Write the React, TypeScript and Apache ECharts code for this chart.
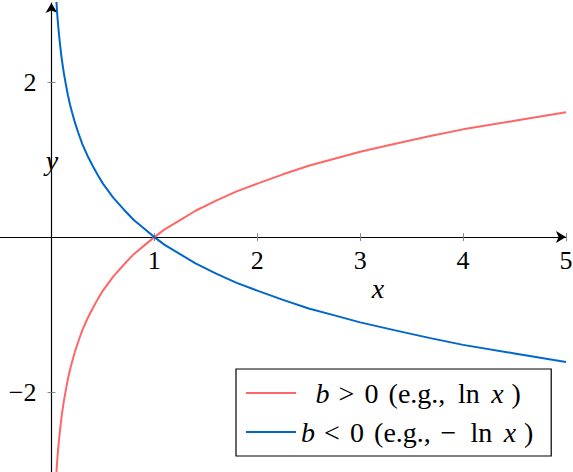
import React, { useEffect, useRef } from "react";
import * as echarts from "echarts";

const xs = [0.045, 0.05, 0.055, 0.06, 0.07, 0.08, 0.09, 0.1, 0.12, 0.14, 0.16, 0.18, 0.2, 0.23, 0.26, 0.3, 0.35, 0.4, 0.45, 0.5, 0.6, 0.7, 0.8, 0.9, 1, 1.1, 1.25, 1.4, 1.6, 1.8, 2, 2.25, 2.5, 2.75, 3, 3.33, 3.67, 4, 4.5, 5];
const redY = [-3.1, -3.0, -2.9, -2.81, -2.66, -2.53, -2.41, -2.3, -2.12, -1.97, -1.83, -1.71, -1.61, -1.47, -1.35, -1.2, -1.05, -0.92, -0.8, -0.69, -0.51, -0.36, -0.22, -0.11, 0, 0.1, 0.22, 0.34, 0.47, 0.59, 0.69, 0.81, 0.92, 1.01, 1.1, 1.2, 1.3, 1.39, 1.5, 1.61];
const blueY = [3.1, 3.0, 2.9, 2.81, 2.66, 2.53, 2.41, 2.3, 2.12, 1.97, 1.83, 1.71, 1.61, 1.47, 1.35, 1.2, 1.05, 0.92, 0.8, 0.69, 0.51, 0.36, 0.22, 0.11, 0, -0.1, -0.22, -0.34, -0.47, -0.59, -0.69, -0.81, -0.92, -1.01, -1.1, -1.2, -1.3, -1.39, -1.5, -1.61];
const xTicks = [1, 2, 3, 4, 5];
const yTicks = [-2, 2];
const seriesNames = ["pos", "neg"];

const FONT = "Liberation Serif";
const FS = 26;
const LFS = 28;

const X_MIN = -0.5, X_MAX = 5, Y_MIN = -3.03, Y_MAX = 3.02;
const W = 573, H = 472, G_LEFT = 0, G_RIGHT = 7, G_TOP = 3, G_BOTTOM = 0;

export default function App() {
  const ref = useRef<HTMLDivElement>(null);
  useEffect(() => {
    if (!ref.current) return;
    const chart = echarts.init(ref.current, null, { renderer: "svg" });
    const fmt = (v: number) => (v < 0 ? "\u2212" + Math.abs(v) : String(v));
    const gw = W - G_LEFT - G_RIGHT;
    const gh = H - G_TOP - G_BOTTOM;
    const distBottom = (gh * (0 - Y_MIN)) / (Y_MAX - Y_MIN);
    const distLeft = (gw * (0 - X_MIN)) / (X_MAX - X_MIN);
    const tickStyle = { color: "#8a8a8a", width: 1 };
    const lineStyle = { color: "#000", width: 1.2 };
    const labelStyle = { fontFamily: FONT, fontSize: FS, color: "#000" };

    const xMain = {
      type: "value", min: X_MIN, max: X_MAX, position: "bottom", offset: -distBottom,
      axisLine: { onZero: false, lineStyle, symbol: ["none", "arrow"], symbolSize: [9, 10] },
      axisTick: { show: true, length: 4, customValues: xTicks, lineStyle: tickStyle },
      axisLabel: { customValues: xTicks, formatter: fmt, ...labelStyle, margin: 10 },
      splitLine: { show: false },
    };
    const xTop = {
      type: "value", min: X_MIN, max: X_MAX, position: "top", offset: -(gh - distBottom),
      axisLine: { show: false, onZero: false },
      axisTick: { show: true, length: 4, customValues: xTicks, lineStyle: tickStyle },
      axisLabel: { show: false },
      splitLine: { show: false },
    };
    const yMain = {
      type: "value", min: Y_MIN, max: Y_MAX, position: "left", offset: -distLeft,
      axisLine: { onZero: false, lineStyle, symbol: ["none", "arrow"], symbolSize: [9, 10] },
      axisTick: { show: true, length: 4, customValues: yTicks, lineStyle: tickStyle },
      axisLabel: { customValues: yTicks, formatter: fmt, ...labelStyle, margin: 15 },
      splitLine: { show: false },
    };
    const yRight = {
      type: "value", min: Y_MIN, max: Y_MAX, position: "right", offset: -(gw - distLeft),
      axisLine: { show: false, onZero: false },
      axisTick: { show: true, length: 4, customValues: yTicks, lineStyle: tickStyle },
      axisLabel: { show: false },
      splitLine: { show: false },
    };

    const t = (extra: object) => ({ fontFamily: FONT, fontSize: LFS, color: "#000", ...extra });
    const rich = {
      p: { width: 14.5 },
      b: t({ fontStyle: "italic", width: 23.1 }),
      rel: t({ width: 25.9 }),
      z: t({ width: 24.1 }),
      eg1: t({ width: 69.4 }),
      eg2: t({ width: 66.5 }),
      m: t({ width: 29.9 }),
      ln: t({ width: 33.3 }),
      x: t({ fontStyle: "italic", width: 20.1 }),
      cp: t({}),
    };

    chart.setOption({
      animation: false,
      grid: { left: G_LEFT, right: G_RIGHT, top: G_TOP, bottom: G_BOTTOM, containLabel: false, outerBoundsMode: "none" },
      xAxis: [xMain, xTop],
      yAxis: [yMain, yRight],
      legend: {
        orient: "vertical",
        left: 236,
        top: 369,
        padding: [10, 18, 10, 9],
        itemWidth: 50,
        itemHeight: 26,
        itemGap: 11,
        borderColor: "#000",
        borderWidth: 1.2,
        backgroundColor: "#fff",
        itemStyle: { opacity: 0 },
        data: seriesNames,
        formatter: (name: string) =>
          name === "pos"
            ? "{p|}{b|b}{rel|>}{z|0}{eg1|(e.g.,}{ln|ln}{x|x}{cp|)}"
            : "{b|b}{rel|<}{z|0}{eg2|(e.g.,}{m|\u2212}{ln|ln}{x|x}{cp|)}",
        textStyle: { fontFamily: FONT, fontSize: LFS, color: "#000", rich },
      },
      graphic: [
        {
          type: "text", x: 378, y: 288,
          style: { text: "x", fontFamily: FONT, fontStyle: "italic", fontSize: LFS, fill: "#000", align: "center", verticalAlign: "middle" },
        },
        {
          type: "text", x: 52, y: 160,
          style: { text: "y", fontFamily: FONT, fontStyle: "italic", fontSize: LFS, fill: "#000", align: "center", verticalAlign: "middle" },
        },
      ],
      series: [
        {
          name: "pos", type: "line", xAxisIndex: 0, yAxisIndex: 0,
          data: xs.map((x, i) => [x, redY[i]]),
          symbol: "none", smooth: false, clip: true,
          lineStyle: { color: "#ff6666", width: 2 },
          itemStyle: { color: "#ff6666" },
        },
        {
          name: "neg", type: "line", xAxisIndex: 0, yAxisIndex: 0,
          data: xs.map((x, i) => [x, blueY[i]]),
          symbol: "none", smooth: false, clip: true,
          lineStyle: { color: "#0066cc", width: 2 },
          itemStyle: { color: "#0066cc" },
        },
      ],
    });
    return () => chart.dispose();
  }, []);
  return <div ref={ref} style={{ width: W, height: H, position: "absolute", left: 0, top: 0 }} />;
}
